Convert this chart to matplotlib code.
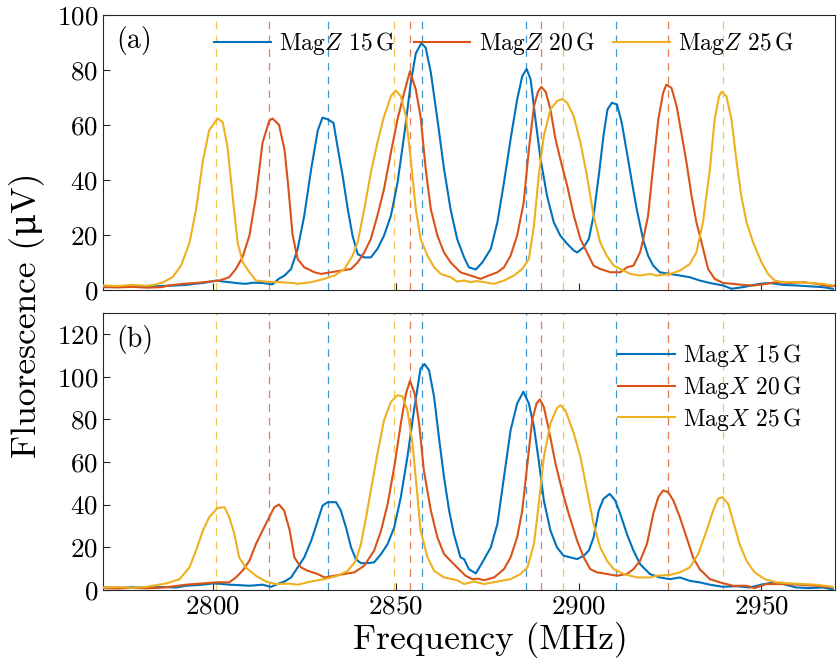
import matplotlib
matplotlib.use('Agg')
import matplotlib.pyplot as plt

plt.rcParams['font.family'] = 'serif'
plt.rcParams['font.serif'] = ['cmr10', 'DejaVu Serif']
plt.rcParams['mathtext.fontset'] = 'cm'
plt.rcParams['axes.formatter.use_mathtext'] = True

# colours (MATLAB default order)
c_blue = '#0072BD'
c_red = '#D95319'
c_yel = '#EDB120'

# ---- panel (a): MagZ ----
f_z15 = [2770, 2774, 2778, 2782, 2786, 2790, 2792.7, 2795, 2797.3, 2799, 2801, 2803, 2804.5, 2807, 2809, 2811,
         2813.6, 2816.3, 2818, 2819.6, 2821.4, 2823.2, 2825, 2826.9, 2828.7, 2830, 2831.4, 2833, 2834.1, 2835.5,
         2836.9, 2838.2, 2839.6, 2841.4, 2843.2, 2845, 2846.8, 2848.7, 2850.5, 2852.3, 2854.1, 2855.5, 2857,
         2858.2, 2859.6, 2861.4, 2863.2, 2865, 2866.8, 2868.7, 2870, 2871.9, 2873.7, 2876, 2877.8, 2879.6, 2881.4,
         2883.2, 2884.6, 2885.8, 2886.9, 2888.2, 2889.6, 2891.4, 2893.2, 2895, 2896.9, 2898.7, 2899.6, 2901.4,
         2902.8, 2904.1, 2905.5, 2906.8, 2907.9, 2909.1, 2910.5, 2911.8, 2913.2, 2914.6, 2915.9, 2917.7, 2919,
         2920.4, 2922.2, 2925, 2927.7, 2930.4, 2933.1, 2935.9, 2939.5, 2941.8, 2945, 2949.5, 2952.2, 2955.9,
         2959.5, 2963.1, 2966.7, 2969.5]
v_z15 = [1.3, 1.0, 1.5, 1.2, 1.4, 1.6, 1.8, 2.2, 2.5, 2.9, 3.4, 3.0, 2.8, 2.4, 2.2, 2.6,
         2.5, 2.0, 4.0, 5.2, 7.6, 14.9, 27, 44, 58, 62.6, 62, 60.7, 52, 41.4,
         29.3, 19.7, 13, 11.8, 11.8, 14.9, 19.7, 27, 39, 56, 75, 86, 89.7,
         88, 79, 62, 44, 29.3, 18.5, 11.8, 8.2, 7.4, 10, 14.9, 24.6, 39, 54.7,
         69.2, 77.7, 80.3, 76.4, 62, 47.5, 34, 24.6, 19.7, 16.7, 14.3, 13.6, 15.5,
         18.5, 27, 41.4, 56, 65.6, 68, 67.4, 60.7, 50, 39, 29.3, 17.9, 12.4,
         8.8, 6.4, 5.8, 5.2, 4.6, 3.4, 2.5, 1.6, 0.4, 1.0, 2.2, 2.5, 1.8,
         1.6, 1.3, 1.0, 0.4]

f_z20 = [2770, 2774, 2778, 2782, 2786, 2788, 2791.8, 2795.4, 2799, 2801.8, 2804.5, 2806.3, 2808.1, 2810, 2811.8,
         2813.6, 2815.4, 2816.3, 2818.1, 2819.6, 2820.6, 2821.8, 2823.2, 2825, 2827.8, 2829.6, 2832.3, 2835,
         2837.8, 2839.6, 2841.4, 2843.2, 2845, 2846.8, 2848.7, 2850.5, 2852.3, 2853.9, 2855.5, 2856.8, 2858.2,
         2859.6, 2861.4, 2863.2, 2865, 2867.7, 2870.5, 2873.2, 2875, 2877.8, 2879.6, 2881.4, 2883.2, 2885,
         2886.4, 2887.8, 2888.9, 2889.8, 2891, 2892.3, 2893.7, 2895, 2896.9, 2898.7, 2900.5, 2902.3, 2904.1,
         2905.9, 2908.7, 2911.4, 2913.2, 2915, 2916.8, 2917.7, 2919, 2920.4, 2921.8, 2923.1, 2924, 2925.4,
         2926.8, 2928.1, 2929.5, 2930.9, 2932.2, 2933.6, 2935.4, 2937.2, 2939.5, 2942.2, 2945, 2947.7, 2950.4,
         2954, 2957.7, 2961.3, 2965, 2968.6, 2970]
v_z20 = [1.0, 0.9, 1.1, 0.8, 1.0, 1.6, 2.2, 2.5, 3.0, 3.4, 4.6, 7.6, 11.8, 19.7, 34,
         53.5, 61.4, 62.3, 60, 51, 38, 20, 11.2, 8.2, 6.4, 5.8, 6.4, 7.0,
         7.6, 10, 13.6, 18.5, 27, 36.6, 50, 62, 71.6, 79.5, 72.8, 63, 44,
         29.3, 19.7, 13.6, 10, 6.4, 5.2, 4.0, 5.0, 6.4, 8.2, 12.4, 19.7, 31.8,
         51, 66.8, 72, 73.8, 72, 65.6, 54.7, 47.5, 37.8, 27, 18.5, 13.6, 8.8,
         7.6, 6.4, 6.4, 8.2, 8.8, 13.6, 18.5, 27, 45, 62, 71.6, 74.6, 73.4,
         66.8, 57, 46.3, 34, 24.6, 17.3, 7.6, 4.0, 2.5, 2.2, 1.8, 1.6, 2.0,
         2.8, 2.5, 2.8, 2.2, 1.3, 1.5]

f_z25 = [2770, 2774, 2778, 2782, 2784, 2786.4, 2789, 2791.3, 2793.6, 2795.4, 2797.3, 2799, 2801.3, 2802.7, 2804,
         2805.5, 2806.8, 2808.2, 2810, 2811.8, 2814.5, 2818, 2821.8, 2823.2, 2826.9, 2830.5, 2833.2, 2836,
         2838.2, 2839.6, 2841.4, 2843.2, 2845, 2846.8, 2848.7, 2850, 2851.4, 2852.8, 2854.1, 2855.5, 2856.8,
         2858.7, 2860.5, 2862.3, 2865, 2866.8, 2868.7, 2870.5, 2872, 2874.2, 2876.9, 2879.6, 2882.3, 2884.6,
         2886.4, 2887.8, 2889.1, 2890.5, 2892.3, 2894.1, 2895.5, 2896.9, 2898.7, 2900.5, 2902.3, 2904.1, 2905.9,
         2907.7, 2909.6, 2911.4, 2914.1, 2916.8, 2919.6, 2921.3, 2925, 2927.7, 2930.4, 2932.2, 2934, 2935.9,
         2937.2, 2938.4, 2939.1, 2940.4, 2941.8, 2943.1, 2944.5, 2945.9, 2947.7, 2950, 2951.8, 2953.6, 2955.9,
         2959.5, 2963.1, 2966.7, 2969.5]
v_z25 = [1.6, 1.4, 1.8, 1.5, 1.8, 2.8, 4.6, 8.8, 17, 29, 47, 58, 62.3, 61, 52,
         33, 17, 10, 6.4, 3.4, 3.0, 2.8, 2.5, 2.2, 2.8, 4.0, 5.2, 7.6,
         12.4, 17.3, 29.3, 42.6, 53.5, 63, 70.4, 72.5, 70.4, 63, 47.5, 29.3, 18.5,
         12.4, 8.2, 5.8, 4.6, 3.0, 3.4, 2.8, 3.2, 2.8, 2.2, 3.4, 5.2, 7.6,
         11.2, 23.4, 41.4, 56, 65.6, 68.6, 69.4, 68, 63, 53.5, 41.4, 27, 17.3,
         12.4, 8.8, 7.6, 5.8, 5.2, 5.8, 5.2, 5.8, 7.0, 9.4, 13.6, 24.6, 44,
         62, 70.4, 72, 70.4, 62, 47.5, 34, 24.6, 17.3, 10, 5.8, 3.4, 2.8,
         2.8, 2.5, 2.2, 1.6]

# ---- panel (b): MagX ----
f_x15 = [2770, 2774, 2778, 2782, 2786, 2790, 2792.7, 2797.3, 2800, 2802, 2804.5, 2807, 2810, 2813.6, 2815.9,
         2818.1, 2819.6, 2821.4, 2823.2, 2825, 2826.9, 2828.7, 2830, 2831.4, 2833.7, 2835, 2836.4, 2837.8,
         2839.1, 2840.5, 2842.3, 2844.1, 2846, 2847.8, 2849.6, 2851.4, 2853.2, 2855, 2856.8, 2857.9, 2859.1,
         2860.5, 2861.8, 2863.2, 2864.6, 2865.9, 2867.7, 2868.7, 2870, 2871.9, 2873.7, 2876, 2877.8, 2879.6,
         2881.4, 2883.2, 2884.9, 2886.4, 2887.8, 2889.1, 2890.5, 2892.3, 2894.1, 2895.9, 2897.8, 2899.6, 2901.4,
         2902.8, 2904.1, 2905.5, 2906.8, 2908.5, 2910, 2911.4, 2913.2, 2915, 2916.8, 2917.7, 2919.5, 2922.2,
         2925, 2927.7, 2930.4, 2933.1, 2935.9, 2939.5, 2943.1, 2946.8, 2950, 2953.2, 2955.9, 2959.5, 2963.1,
         2966.7, 2969.5]
v_x15 = [1.1, 0.9, 1.2, 1.0, 1.3, 1.1, 1.9, 2.4, 3.0, 2.8, 2.4, 2.2, 1.9, 2.4, 1.4,
         3.0, 3.9, 5.8, 10.5, 15.2, 23, 32.5, 39.5, 41.1, 41.1, 37.2, 29.3, 19.9,
         14.4, 12.5, 12.5, 12.9, 16.8, 21.5, 29.3, 43.5, 62.3, 84.2, 103.8, 105.9, 103,
         90.5, 71.7, 52.9, 37.2, 26.2, 15.2, 14.4, 9.7, 7.7, 12.9, 19.9, 30.9, 52.9,
         74.8, 87.4, 92.9, 87.4, 76.4, 60.7, 41.9, 27.8, 19.9, 16, 15.2, 14.4, 16,
         18.4, 24.6, 37.2, 42.7, 45, 41.9, 35.6, 26.2, 18.4, 12.1, 10.5, 7.4, 5.8,
         5.0, 5.8, 4.2, 3.5, 2.4, 1.4, 1.7, 1.1, 2.4, 3.5, 2.7, 1.1, 0.8,
         1.1, 0.2]

f_x20 = [2770, 2774, 2778, 2782, 2786, 2788.2, 2792.7, 2797.3, 2800.9, 2804.5, 2806.3, 2808.1, 2810, 2811.8,
         2813.6, 2815.4, 2816.8, 2818.1, 2819.5, 2821, 2822.3, 2824.1, 2826, 2828.7, 2830.5, 2833.2, 2835.9,
         2838.7, 2841.4, 2844.1, 2846, 2847.8, 2849.6, 2851.4, 2852.8, 2853.9, 2855.2, 2856.4, 2857.7, 2859.6,
         2861.4, 2863.2, 2865, 2866.8, 2869.1, 2870.9, 2872.5, 2874.2, 2876.9, 2879.6, 2881.4, 2883.2, 2884.6,
         2886, 2887.3, 2888.5, 2889.4, 2890.5, 2891.9, 2893.7, 2895.5, 2897.3, 2899.6, 2901.4, 2903.2, 2905,
         2907.8, 2910.5, 2913.2, 2915, 2916.8, 2918.7, 2920.4, 2921.8, 2923.1, 2924.5, 2925.9, 2927.7, 2929.5,
         2931.3, 2933.1, 2935.9, 2938.6, 2942.2, 2945.9, 2948.1, 2951.3, 2955.9, 2960.4, 2964.9, 2969.5]
v_x20 = [0.8, 0.6, 0.9, 0.7, 1.0, 1.4, 2.4, 3.0, 3.5, 3.5, 5.8, 8.9, 13.6, 21.5,
         27.8, 34, 38.7, 40, 37.2, 28, 15.2, 10.5, 8.9, 7.4, 5.8, 6.6, 7.4,
         8.2, 11.3, 18.4, 27.8, 40.3, 57.6, 78, 92, 98, 92, 78, 56, 37.2,
         24.6, 16.8, 13.6, 10.5, 6.6, 5.0, 5.2, 4.5, 5.8, 9.7, 15.2, 24.6, 37.2,
         59.1, 79.5, 87.4, 89.3, 85.8, 74.8, 59.1, 46.6, 35.6, 23, 15.2, 9.7, 8.2,
         7.4, 6.6, 7.4, 9.7, 13.6, 21.5, 35.6, 43.5, 46.6, 45.8, 41.9, 34, 24.6,
         15.2, 9.7, 5.0, 3.5, 1.9, 1.9, 0.8, 2.7, 2.7, 2.4, 1.9, 1.1]

f_x25 = [2770, 2774, 2778, 2782, 2783.6, 2787.3, 2790.9, 2793.6, 2795.4, 2797.3, 2799, 2801.3, 2803.2, 2804.5,
         2805.9, 2807.2, 2809, 2811.8, 2814.5, 2817.2, 2820.9, 2823.2, 2826.9, 2830.5, 2834.1, 2836.9, 2839.1,
         2840.5, 2841.9, 2843.2, 2845, 2846.8, 2848.7, 2850.5, 2851.8, 2853.2, 2854.6, 2855.9, 2856.8, 2858.7,
         2860.5, 2863.2, 2866.8, 2868.7, 2870.5, 2871.4, 2874.2, 2877.8, 2881.4, 2884.1, 2886, 2887.8, 2889.1,
         2890.5, 2892.3, 2894, 2895, 2896.4, 2898.7, 2900.5, 2902.3, 2904.1, 2905.9, 2907.8, 2909.6, 2912.3,
         2916, 2919.6, 2921.3, 2925, 2927.7, 2930.4, 2932.7, 2935, 2936.8, 2938.1, 2939.3, 2940.9, 2942.2, 2944,
         2945.9, 2948.1, 2950.9, 2954, 2957.7, 2961.3, 2964.9, 2969.5]
v_x25 = [1.1, 1.3, 0.9, 1.4, 1.9, 3.0, 5.0, 10.5, 18.4, 27.8, 34, 38.4, 38.7, 34,
         26.2, 15.2, 10.5, 6.6, 3.9, 2.7, 2.9, 2.4, 3.9, 5.0, 6.6, 8.9, 13.6,
         21.5, 34, 46.6, 63.8, 79.5, 88.2, 91.3, 90.8, 84.2, 68.5, 45, 27.8, 15.2,
         8.9, 5.8, 4.5, 2.7, 3.5, 3.9, 2.7, 3.9, 5.0, 7.4, 10.5, 21.5, 40.3,
         62.3, 78, 85, 86.6, 84.2, 73.3, 62.3, 46.6, 30.9, 19.9, 13.6, 9.7, 7.4,
         5.8, 5.8, 6.6, 7.0, 8.2, 10.5, 16.8, 27.8, 37.2, 42.7, 43.5, 40.3, 32.5, 21.5,
         13.6, 8.2, 5.0, 3.5, 3.0, 2.7, 2.4, 1.4]

# resonance positions (dashed guides)
peaks_15 = [2831.6, 2857.1, 2885.7, 2910.1]
peaks_20 = [2815.3, 2853.9, 2889.7, 2924.5]
peaks_25 = [2800.9, 2849.6, 2895.8, 2939.4]

fig = plt.figure(figsize=(8.38, 6.71), dpi=100)
ax1 = fig.add_axes([0.123, 0.568, 0.873, 0.41])
ax2 = fig.add_axes([0.123, 0.121, 0.873, 0.413])

tick_fs = 19.5
for ax in (ax1, ax2):
    for pk, col in ((peaks_25, c_yel), (peaks_20, c_red), (peaks_15, c_blue)):
        for p in pk:
            ax.axvline(p, color=col, lw=0.9, ls=(0, (6, 5)), alpha=0.75, zorder=1)
    ax.set_xlim(2770, 2970)
    ax.set_xticks([2800, 2850, 2900, 2950])
    ax.tick_params(direction='in', length=5, width=0.8, labelsize=tick_fs, color='#262626')
    for s in ax.spines.values():
        s.set_color('#262626')
        s.set_linewidth(0.8)

lw = 1.5
ax1.plot(f_z15, v_z15, color=c_blue, lw=lw, label=r'Mag$Z$ 15$\,$G', zorder=3)
ax1.plot(f_z20, v_z20, color=c_red, lw=lw, label=r'Mag$Z$ 20$\,$G', zorder=3)
ax1.plot(f_z25, v_z25, color=c_yel, lw=lw, label=r'Mag$Z$ 25$\,$G', zorder=3)
ax1.set_ylim(0, 100)
ax1.set_yticks([0, 20, 40, 60, 80, 100])
ax1.tick_params(labelbottom=False)
ax1.legend(loc='center', bbox_to_anchor=(0.548, 0.895), ncol=3, frameon=False, fontsize=17,
           handlelength=2.4, columnspacing=0.8, handletextpad=0.35)
ax1.text(0.018, 0.905, '(a)', transform=ax1.transAxes, fontsize=20, va='center')

ax2.plot(f_x15, v_x15, color=c_blue, lw=lw, label=r'Mag$X$ 15$\,$G', zorder=3)
ax2.plot(f_x20, v_x20, color=c_red, lw=lw, label=r'Mag$X$ 20$\,$G', zorder=3)
ax2.plot(f_x25, v_x25, color=c_yel, lw=lw, label=r'Mag$X$ 25$\,$G', zorder=3)
ax2.set_ylim(0, 130)
ax2.set_yticks([0, 20, 40, 60, 80, 100, 120])
ax2.legend(loc='center', bbox_to_anchor=(0.83, 0.73), frameon=False, fontsize=17,
           handlelength=2.4, handletextpad=0.35, labelspacing=0.2)
ax2.text(0.018, 0.905, '(b)', transform=ax2.transAxes, fontsize=20, va='center')

fig.text(0.585, 0.046, 'Frequency (MHz)', ha='center', va='center', fontsize=25.5)
fig.text(0.032, 0.53, 'Fluorescence (\u03bcV)', ha='center', va='center', rotation=90, fontsize=25.5,
         family=['cmr10', 'DejaVu Serif'])

fig.savefig('out.png', dpi=100)
